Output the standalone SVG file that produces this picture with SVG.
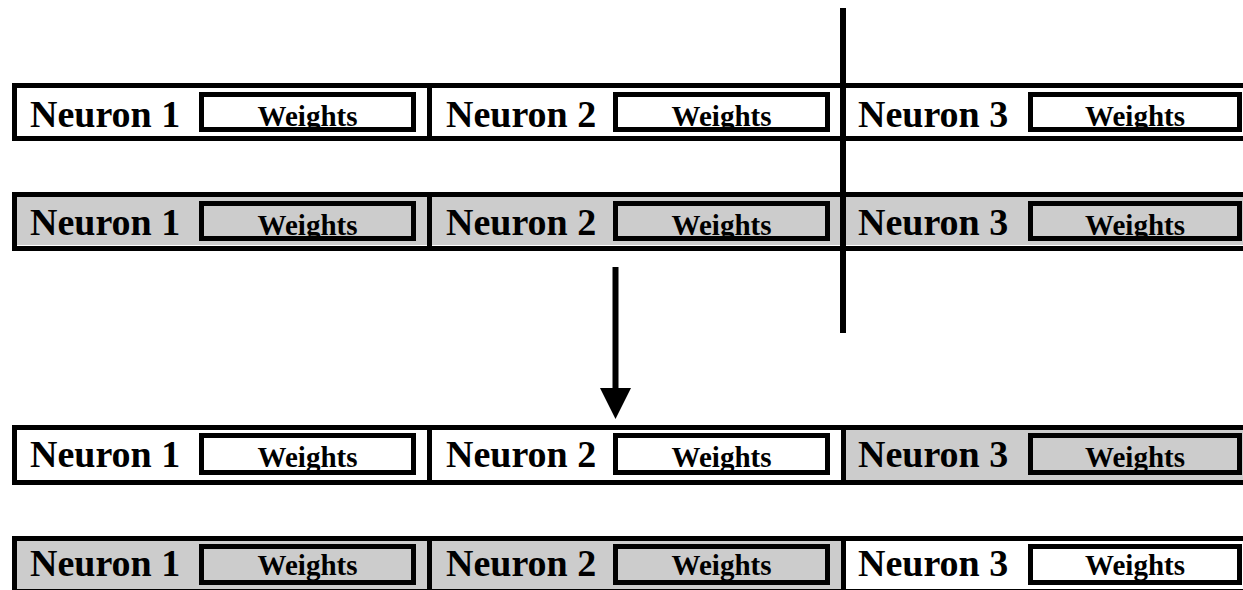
<svg xmlns="http://www.w3.org/2000/svg" width="1243" height="590" viewBox="0 0 1243 590">
<style>
  .bg{fill:#ffffff}
  .cw{fill:#ffffff;stroke:none}
  .cg{fill:#cccccc;stroke:none}
  .frame{fill:none;stroke:#000;stroke-width:5}
  .div{stroke:#000;stroke-width:5}
  .ww{fill:#ffffff;stroke:#000;stroke-width:5}
  .wg{fill:#cccccc;stroke:#000;stroke-width:5}
  .n{font-family:"Liberation Serif","Times New Roman",serif;font-weight:bold;font-size:38px;fill:#000}
  .w{font-family:"Liberation Serif","Times New Roman",serif;font-weight:bold;font-size:29px;fill:#000;text-anchor:middle}
  .conn{stroke:#000;stroke-width:6;fill:none}
</style>
<defs>
  <marker id="ah" markerUnits="userSpaceOnUse" markerWidth="32" markerHeight="32" refX="4" refY="15.5" orient="auto" viewBox="0 0 32 32">
    <path d="M0,0 L31,15.5 L0,31 Z" fill="#000"/>
  </marker>
</defs>
<rect class="bg" x="0" y="0" width="1243" height="590"/>

<!-- Row 1 -->
<g id="row1" transform="translate(0,83)">
  <g id="r1-neuron1"><rect class="cw" x="17" y="5" width="410" height="48"/><rect class="ww" x="201.5" y="11.5" width="212" height="35"/><text class="n" x="30" y="44">Neuron 1</text><text class="w" x="307.5" y="42.5">Weights</text></g>
  <g id="r1-neuron2"><rect class="cw" x="432" y="5" width="409" height="48"/><rect class="ww" x="615.5" y="11.5" width="212" height="35"/><text class="n" x="446" y="44">Neuron 2</text><text class="w" x="721.5" y="42.5">Weights</text></g>
  <g id="r1-neuron3"><rect class="cw" x="846" y="5" width="404" height="48"/><rect class="ww" x="1030.5" y="11.5" width="209" height="35"/><text class="n" x="858" y="44">Neuron 3</text><text class="w" x="1135" y="42.5">Weights</text></g>
  <rect class="frame" x="14.5" y="2.5" width="1250" height="53"/>
  <line class="div" x1="429.5" y1="0" x2="429.5" y2="58"/>
  <line class="div" x1="843.5" y1="0" x2="843.5" y2="58"/>
</g>

<!-- Row 2 -->
<g id="row2" transform="translate(0,192)">
  <g id="r2-neuron1"><rect class="cg" x="17" y="5" width="410" height="48"/><rect class="wg" x="201.5" y="11.5" width="212" height="35"/><text class="n" x="30" y="43">Neuron 1</text><text class="w" x="307.5" y="43">Weights</text></g>
  <g id="r2-neuron2"><rect class="cg" x="432" y="5" width="409" height="48"/><rect class="wg" x="615.5" y="11.5" width="212" height="35"/><text class="n" x="446" y="43">Neuron 2</text><text class="w" x="721.5" y="43">Weights</text></g>
  <g id="r2-neuron3"><rect class="cg" x="846" y="5" width="404" height="48"/><rect class="wg" x="1030.5" y="11.5" width="209" height="35"/><text class="n" x="858" y="43">Neuron 3</text><text class="w" x="1135" y="43">Weights</text></g>
  <rect class="frame" x="14.5" y="2.5" width="1250" height="54"/>
  <line class="div" x1="429.5" y1="0" x2="429.5" y2="59"/>
  <line class="div" x1="843.5" y1="0" x2="843.5" y2="59"/>
</g>

<!-- Row 3 -->
<g id="row3" transform="translate(0,425)">
  <g id="r3-neuron1"><rect class="cw" x="17" y="5" width="410" height="50"/><rect class="ww" x="201.5" y="10.5" width="212" height="37"/><text class="n" x="30" y="42">Neuron 1</text><text class="w" x="307.5" y="41.5">Weights</text></g>
  <g id="r3-neuron2"><rect class="cw" x="432" y="5" width="409" height="50"/><rect class="ww" x="615.5" y="10.5" width="212" height="37"/><text class="n" x="446" y="42">Neuron 2</text><text class="w" x="721.5" y="41.5">Weights</text></g>
  <g id="r3-neuron3"><rect class="cg" x="846" y="5" width="404" height="50"/><rect class="wg" x="1030.5" y="10.5" width="209" height="37"/><text class="n" x="858" y="42">Neuron 3</text><text class="w" x="1135" y="41.5">Weights</text></g>
  <rect class="frame" x="14.5" y="2.5" width="1250" height="55"/>
  <line class="div" x1="429.5" y1="0" x2="429.5" y2="60"/>
  <line class="div" x1="843.5" y1="0" x2="843.5" y2="60"/>
</g>

<!-- Row 4 -->
<g id="row4" transform="translate(0,536)">
  <g id="r4-neuron1"><rect class="cg" x="17" y="5" width="410" height="48"/><rect class="wg" x="201.5" y="10.5" width="212" height="36"/><text class="n" x="30" y="40">Neuron 1</text><text class="w" x="307.5" y="39">Weights</text></g>
  <g id="r4-neuron2"><rect class="cg" x="432" y="5" width="409" height="48"/><rect class="wg" x="615.5" y="10.5" width="212" height="36"/><text class="n" x="446" y="40">Neuron 2</text><text class="w" x="721.5" y="39">Weights</text></g>
  <g id="r4-neuron3"><rect class="cw" x="846" y="5" width="404" height="48"/><rect class="ww" x="1030.5" y="10.5" width="209" height="36"/><text class="n" x="858" y="40">Neuron 3</text><text class="w" x="1135" y="39">Weights</text></g>
  <rect class="frame" x="14.5" y="2.5" width="1250" height="53"/>
  <line class="div" x1="429.5" y1="0" x2="429.5" y2="58"/>
  <line class="div" x1="843.5" y1="0" x2="843.5" y2="58"/>
</g>

<!-- Connectors -->
<g id="connectors">
  <line class="conn" x1="843" y1="8" x2="843" y2="333"/>
  <line class="conn" x1="615.5" y1="267" x2="615.5" y2="392" marker-end="url(#ah)"/>
</g>
</svg>
